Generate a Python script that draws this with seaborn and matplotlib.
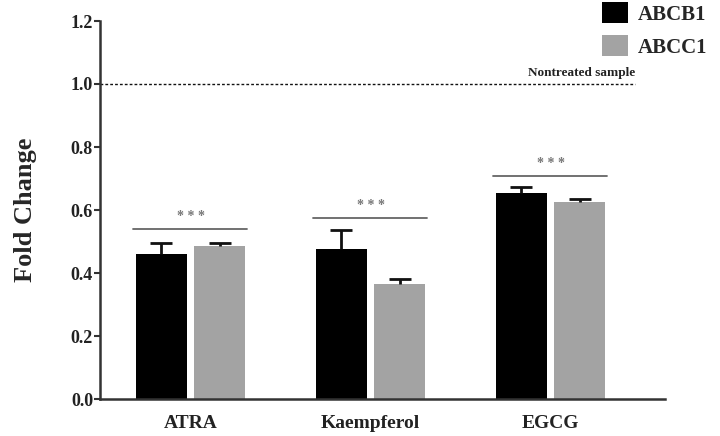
import matplotlib
matplotlib.use("Agg")
import matplotlib.pyplot as plt
import seaborn as sns
import pandas as pd
import numpy as np

categories = ["ATRA", "Kaempferol", "EGCG"]
genes = ["ABCB1", "ABCC1"]
abcb1_values = [0.460, 0.476, 0.655]
abcc1_values = [0.487, 0.364, 0.625]
abcb1_err = [0.036, 0.061, 0.019]
abcc1_err = [0.007, 0.017, 0.011]
sig_labels = ["* * *", "* * *", "* * *"]
sig_heights = [0.54, 0.575, 0.708]
yticks = [0.0, 0.2, 0.4, 0.6, 0.8, 1.0, 1.2]
ref_value = 1.0
ref_label = "Nontreated sample"

df = pd.DataFrame({
    "Treatment": categories * 2,
    "Gene": [genes[0]] * 3 + [genes[1]] * 3,
    "Fold Change": abcb1_values + abcc1_values,
})

sns.set_style("white")
plt.rcParams["font.family"] = ["Liberation Serif", "DejaVu Serif"]
plt.rcParams["font.weight"] = "bold"

fig = plt.figure(figsize=(7.2, 4.36), dpi=100)
ax = fig.add_axes([100 / 720, 1 - 399 / 436, 565 / 720, 378 / 436])

palette = {"ABCB1": "#000000", "ABCC1": "#a3a3a3"}
sns.barplot(data=df, x="Treatment", y="Fold Change", hue="Gene",
            order=categories, hue_order=genes, palette=palette,
            width=0.65, gap=0.13, saturation=1, errorbar=None, ax=ax,
            linewidth=0)

errs = [abcb1_err, abcc1_err]
for cont, err in zip(ax.containers, errs):
    xs = [p.get_x() + p.get_width() / 2 for p in cont.patches]
    hs = [p.get_height() for p in cont.patches]
    res = ax.errorbar(xs, hs, yerr=[np.zeros(len(err)), err], fmt="none",
                      ecolor="#111111", elinewidth=2, capsize=8, capthick=2,
                      zorder=1)
    res[1][0].set_visible(False)

# significance lines
for i, (lab, h) in enumerate(zip(sig_labels, sig_heights)):
    ax.plot([i - 0.32, i + 0.315], [h, h], color="#666666", lw=1.3)
    ax.text(i, h + 0.018, lab, ha="center", va="bottom", fontsize=10,
            color="#777777")

# reference line
ax.plot([-0.503, 2.47], [ref_value, ref_value], color="#111111",
        lw=1.0, ls=(0, (2, 1.5)))
ax.text(2.47, ref_value + 0.015, ref_label, ha="right", va="bottom",
        fontsize=9.5, fontweight="bold", color="#222222")

ax.set_xlim(-0.503, 2.636)
ax.set_ylim(0, 1.2)
ax.set_yticks(yticks)
ax.set_yticklabels([f"{t:.1f}" for t in yticks])
ax.set_xlabel("")
ax.set_ylabel("Fold Change", fontsize=19, fontweight="bold", labelpad=24)
ax.tick_params(axis="y", which="both", left=True, length=4, width=1.5,
               labelsize=13, pad=1, colors="#333333", labelcolor="#222222")
ax.tick_params(axis="x", bottom=False, labelsize=14, pad=8,
               labelcolor="#222222")
for lab in ax.get_xticklabels() + ax.get_yticklabels():
    lab.set_fontweight("bold")

sns.despine(ax=ax)
for s in ["left", "bottom"]:
    ax.spines[s].set_linewidth(1.8)
    ax.spines[s].set_color("#333333")

handles, labels = ax.get_legend_handles_labels()
ax.legend(handles, labels, loc="upper left", bbox_to_anchor=(602 / 720, 1 - 2 / 436),
          bbox_transform=fig.transFigure, frameon=False, fontsize=15,
          handlelength=1.25, handleheight=1.2, handletextpad=0.45,
          labelspacing=0.5, borderpad=0, borderaxespad=0)

fig.savefig("out.png", dpi=100)
